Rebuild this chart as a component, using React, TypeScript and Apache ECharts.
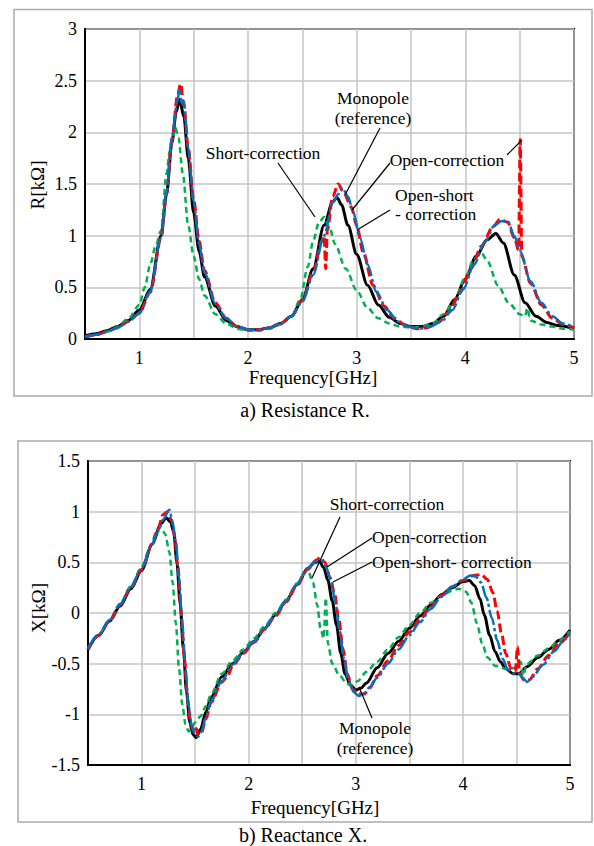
import React, { useEffect, useRef } from 'react';
import * as echarts from 'echarts';

// ---------- Data: (a) Resistance R [kΩ] vs Frequency [GHz] ----------
const rMonopole: [number, number][] = [
  [0.5,0.03],[0.6,0.05],[0.7,0.08],[0.8,0.12],[0.9,0.18],[1.0,0.28],[1.1,0.48],[1.2,1.0],[1.25,1.4],[1.3,1.9],
  [1.34,2.2],[1.37,2.32],[1.41,2.15],[1.45,1.75],[1.5,1.22],[1.55,0.85],[1.6,0.6],[1.7,0.32],[1.8,0.18],[1.9,0.12],
  [2.0,0.09],[2.1,0.09],[2.2,0.11],[2.3,0.15],[2.4,0.22],[2.5,0.38],[2.6,0.68],[2.7,1.1],[2.78,1.33],[2.82,1.37],
  [2.86,1.3],[2.92,1.1],[3.0,0.82],[3.1,0.52],[3.2,0.33],[3.3,0.21],[3.4,0.15],[3.5,0.12],[3.6,0.12],[3.7,0.15],
  [3.8,0.22],[3.9,0.38],[4.0,0.58],[4.1,0.8],[4.2,0.96],[4.28,1.02],[4.35,0.93],[4.45,0.62],[4.55,0.35],[4.65,0.22],
  [4.75,0.16],[4.85,0.13],[5.0,0.1],
];
const rShort: [number, number][] = [
  [0.5,0.02],[0.6,0.04],[0.7,0.07],[0.8,0.12],[0.9,0.2],[1.0,0.33],[1.05,0.5],[1.1,0.72],[1.15,0.9],[1.2,1.05],
  [1.25,1.6],[1.28,1.82],[1.31,1.95],[1.33,2.05],[1.36,1.95],[1.4,1.6],[1.45,1.1],[1.5,0.8],[1.55,0.58],[1.6,0.42],
  [1.7,0.24],[1.8,0.15],[1.9,0.1],[2.0,0.08],[2.1,0.08],[2.2,0.1],[2.3,0.14],[2.4,0.22],[2.48,0.38],[2.55,0.7],
  [2.6,0.95],[2.65,1.12],[2.7,1.18],[2.75,1.08],[2.8,0.92],[2.9,0.68],[3.0,0.47],[3.1,0.3],[3.2,0.2],[3.3,0.15],
  [3.4,0.12],[3.5,0.11],[3.6,0.12],[3.7,0.15],[3.8,0.24],[3.9,0.36],[4.0,0.6],[4.08,0.78],[4.15,0.83],[4.2,0.76],
  [4.3,0.52],[4.4,0.35],[4.5,0.24],[4.55,0.22],[4.57,0.3],[4.6,0.18],[4.7,0.14],[4.8,0.12],[4.9,0.1],[5.0,0.09],
];
const rOpen: [number, number][] = [
  [0.5,0.02],[0.6,0.04],[0.7,0.07],[0.8,0.11],[0.9,0.17],[1.0,0.25],[1.1,0.45],[1.2,0.98],[1.25,1.4],[1.3,1.92],
  [1.35,2.35],[1.38,2.47],[1.41,2.25],[1.45,1.85],[1.5,1.35],[1.55,0.95],[1.6,0.66],[1.7,0.35],[1.8,0.2],[1.9,0.12],
  [2.0,0.09],[2.1,0.09],[2.2,0.11],[2.3,0.15],[2.4,0.22],[2.5,0.37],[2.6,0.65],[2.68,0.95],[2.7,1.0],[2.715,0.68],
  [2.73,1.05],[2.78,1.38],[2.83,1.5],[2.88,1.42],[2.95,1.28],[3.0,1.1],[3.06,0.84],[3.15,0.52],[3.25,0.32],[3.35,0.2],
  [3.45,0.13],[3.55,0.1],[3.65,0.11],[3.75,0.16],[3.85,0.26],[3.95,0.45],[4.05,0.68],[4.15,0.9],[4.25,1.08],[4.32,1.16],
  [4.39,1.13],[4.45,0.98],[4.49,0.86],[4.505,1.93],[4.52,0.8],[4.6,0.54],[4.7,0.33],[4.8,0.2],[4.9,0.14],[5.0,0.11],
];
const rOpenShort: [number, number][] = [
  [0.5,0.02],[0.6,0.04],[0.7,0.07],[0.8,0.11],[0.9,0.17],[1.0,0.25],[1.1,0.46],[1.2,0.98],[1.25,1.42],[1.3,1.95],
  [1.35,2.3],[1.37,2.42],[1.39,2.28],[1.41,2.3],[1.45,1.85],[1.5,1.33],[1.55,0.92],[1.6,0.64],[1.7,0.34],[1.8,0.2],
  [1.9,0.12],[2.0,0.09],[2.1,0.09],[2.2,0.11],[2.3,0.15],[2.4,0.22],[2.5,0.36],[2.6,0.62],[2.7,1.0],[2.78,1.32],
  [2.83,1.4],[2.87,1.46],[2.92,1.38],[2.97,1.22],[3.03,0.98],[3.1,0.72],[3.18,0.46],[3.28,0.28],[3.38,0.17],[3.48,0.12],
  [3.58,0.1],[3.68,0.12],[3.78,0.17],[3.88,0.28],[3.98,0.48],[4.08,0.72],[4.18,0.94],[4.27,1.1],[4.33,1.14],[4.39,1.14],
  [4.45,1.0],[4.5,0.86],[4.6,0.56],[4.7,0.35],[4.8,0.22],[4.9,0.15],[5.0,0.11],
];

// ---------- Data: (b) Reactance X [kΩ] vs Frequency [GHz] ----------
const xMonopole: [number, number][] = [
  [0.5,-0.36],[0.6,-0.22],[0.7,-0.08],[0.8,0.07],[0.9,0.24],[1.0,0.42],[1.1,0.68],[1.18,0.88],[1.23,0.94],[1.27,0.9],
  [1.3,0.8],[1.33,0.5],[1.36,0.1],[1.39,-0.35],[1.42,-0.78],[1.45,-1.08],[1.48,-1.2],[1.51,-1.23],[1.55,-1.15],[1.6,-0.98],
  [1.65,-0.83],[1.75,-0.63],[1.85,-0.5],[1.95,-0.39],[2.05,-0.28],[2.15,-0.15],[2.25,-0.02],[2.35,0.12],[2.45,0.28],[2.55,0.44],
  [2.62,0.5],[2.66,0.51],[2.7,0.45],[2.74,0.32],[2.78,0.12],[2.82,-0.12],[2.86,-0.4],[2.9,-0.6],[2.95,-0.71],[3.0,-0.76],
  [3.05,-0.74],[3.1,-0.69],[3.2,-0.54],[3.3,-0.4],[3.4,-0.28],[3.5,-0.15],[3.6,-0.03],[3.7,0.08],[3.8,0.18],[3.9,0.25],
  [4.0,0.31],[4.06,0.32],[4.11,0.27],[4.16,0.14],[4.2,-0.02],[4.25,-0.22],[4.3,-0.38],[4.35,-0.48],[4.4,-0.55],[4.47,-0.6],
  [4.52,-0.6],[4.6,-0.53],[4.7,-0.44],[4.8,-0.36],[4.9,-0.27],[5.0,-0.17],
];
const xShort: [number, number][] = [
  [0.5,-0.35],[0.6,-0.21],[0.7,-0.07],[0.8,0.09],[0.9,0.26],[1.0,0.45],[1.08,0.65],[1.14,0.8],[1.18,0.85],[1.22,0.78],
  [1.26,0.6],[1.29,0.3],[1.32,-0.1],[1.35,-0.55],[1.38,-0.9],[1.41,-1.1],[1.44,-1.17],[1.47,-1.12],[1.5,-1.08],[1.55,-1.02],
  [1.6,-0.92],[1.65,-0.8],[1.75,-0.6],[1.85,-0.47],[1.95,-0.36],[2.05,-0.25],[2.15,-0.13],[2.25,0.0],[2.35,0.13],[2.45,0.29],
  [2.52,0.39],[2.56,0.4],[2.6,0.3],[2.64,0.08],[2.67,-0.15],[2.7,-0.25],[2.72,0.15],[2.74,-0.3],[2.78,-0.5],[2.85,-0.62],
  [2.92,-0.7],[2.97,-0.71],[3.02,-0.67],[3.1,-0.58],[3.2,-0.48],[3.3,-0.36],[3.4,-0.24],[3.5,-0.12],[3.6,0.0],[3.7,0.1],
  [3.8,0.17],[3.9,0.22],[3.96,0.24],[4.03,0.21],[4.08,0.1],[4.13,-0.1],[4.18,-0.3],[4.23,-0.44],[4.3,-0.52],[4.4,-0.55],
  [4.5,-0.54],[4.54,-0.48],[4.56,-0.62],[4.6,-0.5],[4.7,-0.42],[4.8,-0.35],[4.9,-0.27],[5.0,-0.18],
];
const xOpen: [number, number][] = [
  [0.5,-0.36],[0.6,-0.22],[0.7,-0.08],[0.8,0.08],[0.9,0.25],[1.0,0.43],[1.1,0.68],[1.15,0.82],[1.2,0.97],[1.24,1.0],
  [1.28,0.92],[1.31,0.75],[1.34,0.45],[1.37,0.0],[1.4,-0.45],[1.43,-0.85],[1.46,-1.1],[1.49,-1.18],[1.51,-1.14],[1.53,-1.2],
  [1.56,-1.18],[1.6,-1.05],[1.65,-0.88],[1.75,-0.68],[1.8,-0.63],[1.85,-0.52],[1.95,-0.4],[2.05,-0.29],[2.15,-0.16],[2.25,-0.03],
  [2.35,0.11],[2.45,0.27],[2.55,0.43],[2.63,0.52],[2.67,0.55],[2.71,0.5],[2.76,0.35],[2.8,0.2],[2.84,-0.05],[2.88,-0.35],
  [2.92,-0.6],[2.97,-0.75],[3.02,-0.8],[3.08,-0.8],[3.13,-0.74],[3.2,-0.62],[3.3,-0.47],[3.4,-0.32],[3.5,-0.19],[3.6,-0.06],
  [3.7,0.06],[3.8,0.17],[3.9,0.26],[4.0,0.32],[4.1,0.37],[4.17,0.38],[4.23,0.33],[4.28,0.2],[4.32,0.02],[4.36,-0.2],
  [4.4,-0.4],[4.45,-0.55],[4.49,-0.58],[4.51,-0.33],[4.53,-0.6],[4.57,-0.66],[4.62,-0.66],[4.7,-0.55],[4.8,-0.42],[4.9,-0.3],
  [5.0,-0.19],
];
const xOpenShort: [number, number][] = [
  [0.5,-0.35],[0.6,-0.21],[0.7,-0.07],[0.8,0.09],[0.9,0.26],[1.0,0.44],[1.1,0.68],[1.15,0.8],[1.2,0.92],[1.26,1.02],
  [1.29,0.9],[1.32,0.7],[1.35,0.35],[1.38,-0.1],[1.41,-0.55],[1.44,-0.92],[1.47,-1.12],[1.5,-1.2],[1.53,-1.22],[1.56,-1.17],
  [1.6,-1.03],[1.65,-0.87],[1.75,-0.67],[1.85,-0.51],[1.95,-0.39],[2.05,-0.28],[2.15,-0.15],[2.25,-0.02],[2.35,0.12],[2.45,0.28],
  [2.55,0.44],[2.63,0.51],[2.68,0.52],[2.72,0.46],[2.77,0.32],[2.81,0.1],[2.85,-0.18],[2.89,-0.45],[2.93,-0.65],[2.98,-0.78],
  [3.03,-0.82],[3.08,-0.79],[3.13,-0.73],[3.2,-0.64],[3.3,-0.5],[3.4,-0.36],[3.5,-0.22],[3.6,-0.09],[3.7,0.04],[3.8,0.16],
  [3.9,0.26],[4.0,0.33],[4.07,0.37],[4.12,0.36],[4.17,0.3],[4.22,0.15],[4.27,-0.05],[4.32,-0.27],[4.37,-0.45],[4.42,-0.56],
  [4.48,-0.6],[4.52,-0.6],[4.56,-0.64],[4.6,-0.68],[4.65,-0.63],[4.75,-0.51],[4.85,-0.38],[4.95,-0.26],[5.0,-0.2],
];

const xTickLabels = ['1', '2', '3', '4', '5'];
const seriesNames = ['Monopole (reference)', 'Short-correction', 'Open-correction', 'Open-short-correction'];

// no quotes: the SVG renderer escapes quote characters inside its style attribute
const FONT = 'Liberation Serif, Times New Roman, serif';

const styles = [
  { color: '#000000', width: 3, type: 'solid' as any },
  { color: '#00b050', width: 2.5, type: [6, 4] as any },
  { color: '#ff0000', width: 3, type: [9, 4] as any },
  { color: '#0070c0', width: 2.5, type: [16, 3, 3, 3] as any },
];

function txt(x: number, y: number, text: string, size: number, align: string = 'center', rotation = 0, lineHeight?: number) {
  return {
    type: 'text', x, y, rotation, z: 100,
    style: {
      text, fill: '#000', fontSize: size, fontFamily: FONT,
      textAlign: align, textVerticalAlign: 'middle', lineHeight: lineHeight ?? Math.round(size * 1.15),
    },
  };
}
function ln(x1: number, y1: number, x2: number, y2: number) {
  return { type: 'line', z: 100, shape: { x1, y1, x2, y2 }, style: { stroke: '#000', lineWidth: 1.2 } };
}

export default function App() {
  const ref = useRef<HTMLDivElement>(null);
  useEffect(() => {
    const chart = echarts.init(ref.current!, undefined, { renderer: 'svg' });
    const xLabelFmt = (v: number) => {
      const r = Math.round(v);
      return Math.abs(v - r) < 1e-9 && xTickLabels.includes(String(r)) ? String(r) : '';
    };
    const xAxisBase = {
      type: 'value', min: 0.5, max: 5, interval: 0.5,
      axisLine: { show: true, onZero: false, lineStyle: { color: '#000', width: 2 } },
      axisTick: { show: false },
      axisLabel: { formatter: xLabelFmt, color: '#000', fontSize: 18, fontFamily: FONT, margin: 10, showMaxLabel: true, showMinLabel: true },
      splitLine: { show: true, lineStyle: { color: '#c4c4c4', width: 1.5 } },
    };
    const yAxisBase = {
      type: 'value', interval: 0.5,
      axisLine: { show: true, onZero: false, lineStyle: { color: '#000', width: 2 } },
      axisTick: { show: false },
      axisLabel: { color: '#000', fontSize: 18, fontFamily: FONT, margin: 8 },
      splitLine: { show: true, lineStyle: { color: '#c4c4c4', width: 1.5 } },
    };
    const datasets = [
      [rMonopole, rShort, rOpen, rOpenShort],
      [xMonopole, xShort, xOpen, xOpenShort],
    ];
    const series: any[] = [];
    datasets.forEach((group, gi) => {
      group.forEach((data, si) => {
        series.push({
          type: 'line', name: seriesNames[si], xAxisIndex: gi, yAxisIndex: gi, data,
          showSymbol: false, symbol: 'none', smooth: 0.3, smoothMonotone: 'x',
          z: 2 + si,
          lineStyle: { color: styles[si].color, width: styles[si].width, type: styles[si].type },
        });
      });
    });

    chart.setOption({
      animation: false,
      backgroundColor: '#ffffff',
      textStyle: { fontFamily: FONT },
      grid: [
        { left: 85, top: 29, width: 489, height: 310, show: true, borderColor: '#000', borderWidth: 2, backgroundColor: 'transparent' },
        { left: 88, top: 461, width: 482, height: 304, show: true, borderColor: '#000', borderWidth: 2, backgroundColor: 'transparent' },
      ],
      xAxis: [
        { ...xAxisBase, gridIndex: 0 },
        { ...xAxisBase, gridIndex: 1 },
      ],
      yAxis: [
        { ...yAxisBase, gridIndex: 0, min: 0, max: 3 },
        { ...yAxisBase, gridIndex: 1, min: -1.5, max: 1.5 },
      ],
      series,
      graphic: [
        // panel frames
        { type: 'rect', z: 0, shape: { x: 14, y: 9.5, width: 578, height: 386.5 }, style: { fill: 'none', stroke: '#ababab', lineWidth: 1.5 } },
        { type: 'rect', z: 0, shape: { x: 18, y: 441, width: 574, height: 381 }, style: { fill: 'none', stroke: '#ababab', lineWidth: 1.5 } },
        // axis names and captions
        txt(37, 185, 'R[kΩ]', 19, 'center', Math.PI / 2),
        txt(313, 377, 'Frequency[GHz]', 19),
        txt(305, 410, 'a) Resistance R.', 20),
        txt(38, 608, 'X[kΩ]', 19, 'center', Math.PI / 2),
        txt(315, 807, 'Frequency[GHz]', 19),
        txt(303, 835, 'b) Reactance X.', 20),
        // annotations (a)
        txt(373, 108, 'Monopole\n(reference)', 17.5, 'center', 0, 20),
        ln(380, 128, 345, 195),
        txt(263, 153, 'Short-correction', 17.5),
        ln(278, 163, 315, 217),
        txt(447, 160, 'Open-correction', 17.5),
        ln(390, 163, 352, 210),
        ln(507, 155, 522, 140),
        txt(395, 204, 'Open-short\n- correction', 17.5, 'left', 0, 19),
        ln(390, 210, 357, 230),
        // annotations (b)
        txt(387, 504, 'Short-correction', 17.5),
        ln(340, 517, 312, 578),
        txt(372, 537, 'Open-correction', 17.5, 'left'),
        ln(372, 538, 327, 567),
        txt(372, 562, 'Open-short- correction', 17.5, 'left'),
        ln(372, 562, 333, 582),
        txt(375, 738, 'Monopole\n(reference)', 17.5, 'center', 0, 20),
        ln(372, 718, 359, 687),
      ],
    });
    return () => chart.dispose();
  }, []);
  return (
    <div
      ref={ref}
      style={{ position: 'absolute', left: 0, top: 0, width: 594, height: 846, background: '#fff' }}
    />
  );
}
